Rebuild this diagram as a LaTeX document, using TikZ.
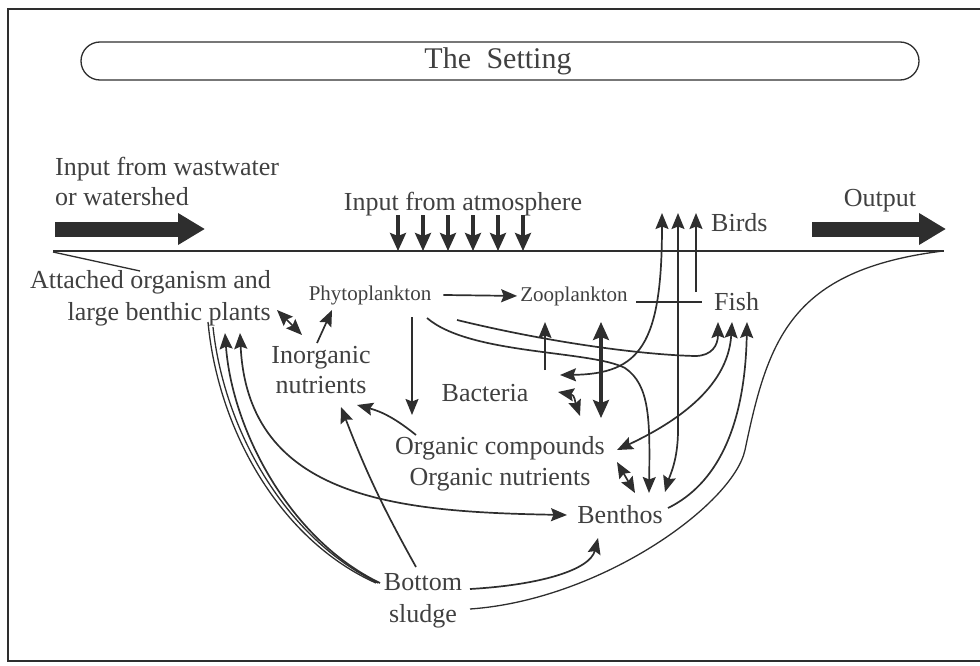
\documentclass[tikz,border=0pt]{standalone}
\usepackage{fontspec}
\setmainfont{Liberation Serif}
\usepackage{xcolor}
\usetikzlibrary{arrows.meta,positioning}

\definecolor{ink}{HTML}{2E2E2E}
\definecolor{txt}{HTML}{404040}

\begin{document}
\begin{tikzpicture}[x=1pt,y=-1pt,
  >={Stealth[length=16pt,width=13pt,inset=2.5pt]},
  lbl/.style={text=txt,font=\fontsize{26}{31}\selectfont,inner sep=0pt},
  smalllbl/.style={text=txt,font=\fontsize{21}{25}\selectfont,inner sep=0pt},
  titlelbl/.style={text=txt,font=\fontsize{30}{34}\selectfont,inner sep=0pt},
  flow/.style={draw=ink,line width=1.7pt},
  heavy/.style={draw=ink,line width=3.2pt,>={Stealth[length=18pt,width=16pt,inset=3pt]}},
  bigarrow/.style={draw=ink,line width=15pt,-{Triangle[length=27pt,width=30pt]}},
  rim/.style={draw=ink,line width=1.3pt}]
\useasboundingbox (0,0) rectangle (980,666);
\draw[rim,line width=1.4pt] (980,9) -- (8,9) -- (8,661) -- (980,661);

% title
\draw[rim,rounded corners=19pt] (81,42) rectangle (919,80);
\node[titlelbl,anchor=base] (title) at (498,69) {The\hspace{8pt} Setting};

% inputs and output
\node[lbl,align=left,anchor=west] (inwaste) at (55,181) {Input from wastwater\\[-1pt]or watershed};
\node[lbl,anchor=base] (inatm) at (463,210) {Input from atmosphere};
\node[lbl,anchor=base] (output) at (880,206) {Output};
\draw[bigarrow] (55,229) -- (205,229);
\draw[bigarrow] (812,229) -- (946,229);
\foreach \x in {398,423,448,473,498,523}
\draw[heavy,->] (\x,215) -- (\x,251);

% water surface and basin
\draw[rim] (53,251) -- (944,251);
\draw[rim] (53,252) -- (140,271);

% compartments
\node[lbl,align=right,anchor=east] (plants) at (271,298) {Attached organism and\\[1pt]large benthic plants};
\node[smalllbl,anchor=base] (phyto) at (370,300) {Phytoplankton};
\node[smalllbl,anchor=base] (zoo) at (574,301) {Zooplankton};
\node[lbl,align=center] (inorg) at (321,370) {Inorganic\\[-1pt]nutrients};
\node[lbl,anchor=base] (bact) at (485,401) {Bacteria};
\node[lbl,align=center] (organic) at (500,464) {Organic compounds\\Organic nutrients};
\node[lbl,anchor=base west] (birds) at (711,231) {Birds};
\node[lbl,anchor=base west] (fish) at (714,310) {Fish};
\node[lbl,anchor=base] (benthos) at (620,523) {Benthos};
\node[lbl,align=center] (sludge) at (423,601) {Bottom\\[1pt]sludge};

% ends of the connectors
\coordinate (birdA) at (662,213);
\coordinate (birdB) at (678,213);
\coordinate (birdC) at (696,213);
\coordinate (fishA) at (718,322);
\coordinate (fishB) at (732,322);
\coordinate (fishC) at (747,322);
\coordinate (benA) at (649,493);
\coordinate (benB) at (665,492);
\coordinate (benC) at (635,493);
\coordinate (benW) at (567,515);
\coordinate (benS) at (598,538);
\coordinate (benE) at (668,508);
\coordinate (plantA) at (208,322);
\coordinate (plantA2) at (213,327);
\coordinate (plantB) at (225,333);
\coordinate (plantC) at (240,333);
\coordinate (sludgeNW) at (376,583);
\coordinate (sludgeN) at (416,567);
\coordinate (sludgeE) at (470,589);
\coordinate (sludgeSE) at (470,609);
\coordinate (orgN) at (416,435);
\coordinate (orgE) at (617,450);
\coordinate (orgSE) at (617,462);
\coordinate (bactE) at (560,375);
\coordinate (bactSE) at (558,392);
\coordinate (fishIn) at (696,292);
\coordinate (shore) at (943,251);

% basin edge
\draw[rim] (plantA) .. controls (218,430) and (280,540) .. (sludgeNW);
\draw[rim] (plantA2) .. controls (224,430) and (285,538) .. ([xshift=2pt]sludgeNW);
\draw[rim] (sludgeSE) .. controls (600,600) and (733,505) .. (745,450)
  .. controls (768,340) and (790,270) .. (shore);

% flows
\draw[flow,->] ([xshift=12pt]phyto.east) -- ([xshift=-3pt]zoo.west);
\draw[flow,<->] (277,310) -- (302,335);
\draw[flow,->] (317,343) -- (332,310);
\draw[flow,->] (412,317) -- (412,415);
\draw[flow,->] (orgN) to[bend right=12] (357,405);
\draw[flow,->] (sludgeN) to[bend left=4] (341,407);
\draw[flow,->] (545,370) -- (545,322);
\draw[heavy,<->] (601,322) -- (601,418);
\draw[flow,<->] (bactSE) .. controls (575,395) and (575,402) .. (580,416);
\draw[flow,<->] (birdA) .. controls (662,345) and (640,374) .. (bactE);
\draw[flow,<->] (birdB) -- (678,430) .. controls (678,460) and (670,475) .. (benB);
\draw[flow,->] (fishIn) -- (birdC);
\draw[flow] (636,302) -- (702,302);
\draw[flow,->] (427,318) .. controls (470,355) and (590,350) .. (625,368)
  .. controls (650,385) and (650,420) .. (benA);
\draw[flow,->] (457,320) .. controls (560,345) and (650,355) .. (695,356)
  .. controls (712,356) and (718,345) .. (fishA);
\draw[flow,<->] (fishB) .. controls (728,390) and (670,425) .. (orgE);
\draw[flow,->] (benE) .. controls (715,485) and (745,430) .. (fishC);
\draw[flow,<->] (orgSE) -- (benC);
\draw[flow,->] (sludgeE) .. controls (540,585) and (590,570) .. (benS);
\draw[flow,<->] (plantC) .. controls (248,500) and (400,512) .. (benW);
\draw[flow,->] ([xshift=4pt]sludgeNW) .. controls (290,540) and (232,430) .. (plantB);
\end{tikzpicture}
\end{document}
